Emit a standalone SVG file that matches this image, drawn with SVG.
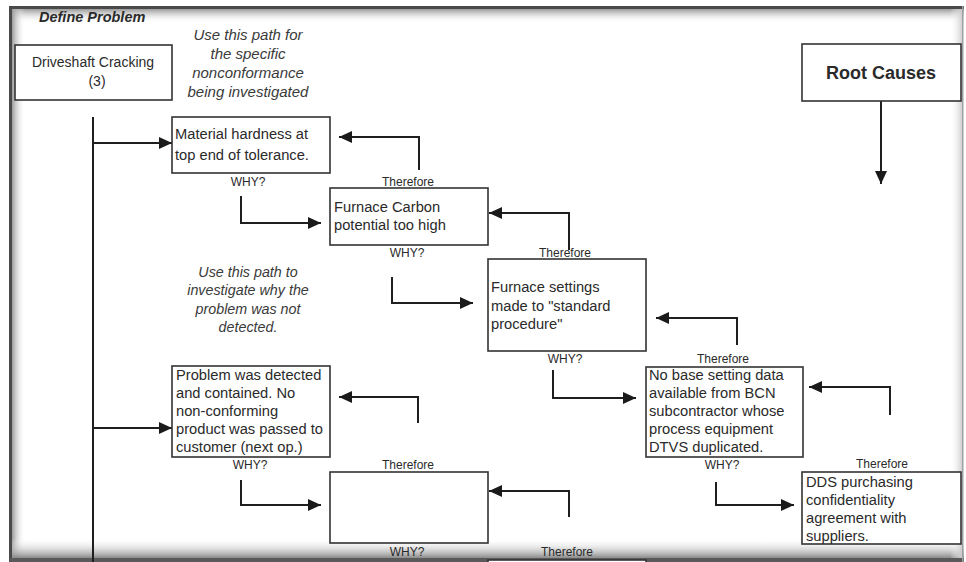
<svg xmlns="http://www.w3.org/2000/svg" width="966" height="562" viewBox="0 0 966 562">
  <defs>
    <linearGradient id="gTop" x1="0" y1="0" x2="0" y2="1">
      <stop offset="0" stop-color="#9a9a9a"/>
      <stop offset="1" stop-color="#ffffff" stop-opacity="0"/>
    </linearGradient>
    <linearGradient id="gLeft" x1="0" y1="0" x2="1" y2="0">
      <stop offset="0" stop-color="#9a9a9a"/>
      <stop offset="1" stop-color="#ffffff" stop-opacity="0"/>
    </linearGradient>
    <linearGradient id="gBottom" x1="0" y1="0" x2="0" y2="1">
      <stop offset="0" stop-color="#ffffff" stop-opacity="0"/>
      <stop offset="1" stop-color="#8a8a8a"/>
    </linearGradient>
    <linearGradient id="gRight" x1="0" y1="0" x2="1" y2="0">
      <stop offset="0" stop-color="#ffffff" stop-opacity="0"/>
      <stop offset="1" stop-color="#c8c8c8"/>
    </linearGradient>
    <marker id="arr" markerUnits="userSpaceOnUse" markerWidth="14" markerHeight="12" viewBox="0 0 14 12" refX="13" refY="6" orient="auto">
      <path d="M0,0 L13,6 L0,12 Z" fill="#1a1a1a"/>
    </marker>
    <style>
      .box { fill: #ffffff; stroke: #333333; stroke-width: 1.6; }
      .txt { font-family: "Liberation Sans", Arial, sans-serif; font-size: 14.7px; fill: #2a2a2a; }
      .small { font-family: "Liberation Sans", Arial, sans-serif; font-size: 12px; fill: #2a2a2a; text-anchor: middle; }
      .ital { font-family: "Liberation Sans", Arial, sans-serif; font-style: italic; font-size: 15px; fill: #3a3a3a; text-anchor: middle; }
      .conn { fill: none; stroke: #1f1f1f; stroke-width: 2; }
      .conn-a { fill: none; stroke: #1f1f1f; stroke-width: 2; marker-end: url(#arr); }
    </style>
  </defs>

  <!-- background and frame -->
  <rect x="0" y="0" width="966" height="562" fill="#ffffff"/>
  <rect x="10" y="9" width="954" height="14" fill="url(#gTop)"/>
  <rect x="12" y="8" width="13" height="554" fill="url(#gLeft)"/>
  <rect x="10" y="538" width="954" height="20" fill="url(#gBottom)"/>
  <rect x="950" y="8" width="13" height="554" fill="url(#gRight)"/>
  <rect x="10" y="6" width="954" height="3" fill="#4a4a4a"/>
  <rect x="9" y="6" width="3" height="556" fill="#4a4a4a"/>
  <rect x="10" y="558" width="954" height="4" fill="#5a5a5a"/>
  <rect x="962" y="6" width="1.5" height="556" fill="#a0a0a0"/>

  <text x="39" y="22" font-family="Liberation Sans, Arial, sans-serif" font-size="14.5" font-weight="bold" font-style="italic" fill="#2a2a2a">Define Problem</text>

  <g id="italic-note-1">
    <text class="ital" x="248" y="40">Use this path for</text>
    <text class="ital" x="248" y="59">the specific</text>
    <text class="ital" x="248" y="78">nonconformance</text>
    <text class="ital" x="248" y="97">being investigated</text>
  </g>
  <g id="italic-note-2">
    <text class="ital" x="248" y="277" style="font-size:14.3px">Use this path to</text>
    <text class="ital" x="248" y="295" style="font-size:14.3px">investigate why the</text>
    <text class="ital" x="248" y="314" style="font-size:14.3px">problem was not</text>
    <text class="ital" x="248" y="332" style="font-size:14.3px">detected.</text>
  </g>

  <!-- connectors -->
  <g id="connectors">
    <path class="conn" d="M93,117 V562"/>
    <path class="conn-a" d="M93,143 H172"/>
    <path class="conn-a" d="M93,428 H172"/>
    <path class="conn-a" d="M881,101 V184"/>
    <path class="conn-a" d="M419,170 V137 H339"/>
    <path class="conn-a" d="M241,196 V223 H321"/>
    <path class="conn-a" d="M569,250 V213 H489"/>
    <path class="conn-a" d="M392,277 V303 H473"/>
    <path class="conn-a" d="M737,345 V318 H656"/>
    <path class="conn-a" d="M553,370 V398 H636"/>
    <path class="conn-a" d="M890,415 V387 H809"/>
    <path class="conn-a" d="M716,482 V505 H794"/>
    <path class="conn-a" d="M418,423 V397 H339"/>
    <path class="conn-a" d="M241,480 V505 H321"/>
    <path class="conn-a" d="M569,517 V491 H489"/>
  </g>

  <g id="labels">
    <text class="small" x="248" y="186">WHY?</text>
    <text class="small" x="408" y="186">Therefore</text>
    <text class="small" x="407" y="257">WHY?</text>
    <text class="small" x="565" y="257">Therefore</text>
    <text class="small" x="565" y="363">WHY?</text>
    <text class="small" x="723" y="363">Therefore</text>
    <text class="small" x="722" y="469">WHY?</text>
    <text class="small" x="882" y="468">Therefore</text>
    <text class="small" x="250" y="469">WHY?</text>
    <text class="small" x="408" y="469">Therefore</text>
    <text class="small" x="407" y="556">WHY?</text>
    <text class="small" x="567" y="556">Therefore</text>
  </g>

  <g id="driveshaft">
    <rect class="box" x="15" y="45" width="157" height="55"/>
    <text class="txt" x="93" y="67" text-anchor="middle" style="font-size:14px">Driveshaft Cracking</text>
    <text class="txt" x="97" y="86" text-anchor="middle" style="font-size:14px">(3)</text>
  </g>

  <g id="root-causes">
    <rect class="box" x="802" y="44" width="159" height="57"/>
    <text x="881" y="79" text-anchor="middle" font-family="Liberation Sans, Arial, sans-serif" font-size="18" font-weight="bold" fill="#2a2a2a">Root Causes</text>
  </g>

  <g id="box-material">
    <rect class="box" x="172" y="117" width="158" height="56"/>
    <text class="txt" x="175" y="139">Material hardness at</text>
    <text class="txt" x="175" y="160">top end of tolerance.</text>
  </g>

  <g id="box-furnace-carbon">
    <rect class="box" x="330" y="188" width="158" height="57"/>
    <text class="txt" x="334" y="212">Furnace Carbon</text>
    <text class="txt" x="334" y="230">potential too high</text>
  </g>

  <g id="box-furnace-settings">
    <rect class="box" x="488" y="259" width="158" height="92"/>
    <text class="txt" x="491" y="292">Furnace settings</text>
    <text class="txt" x="491" y="311">made to "standard</text>
    <text class="txt" x="491" y="329">procedure"</text>
  </g>

  <g id="box-base-setting">
    <rect class="box" x="646" y="367" width="157" height="90"/>
    <text class="txt" x="649" y="380">No base setting data</text>
    <text class="txt" x="649" y="398">available from BCN</text>
    <text class="txt" x="649" y="416">subcontractor whose</text>
    <text class="txt" x="649" y="434">process equipment</text>
    <text class="txt" x="649" y="452">DTVS duplicated.</text>
  </g>

  <g id="box-dds">
    <rect class="box" x="802" y="472" width="159" height="72"/>
    <text class="txt" x="806" y="487">DDS purchasing</text>
    <text class="txt" x="806" y="505">confidentiality</text>
    <text class="txt" x="806" y="523">agreement with</text>
    <text class="txt" x="806" y="541">suppliers.</text>
  </g>

  <g id="box-detected">
    <rect class="box" x="172" y="366" width="158" height="91"/>
    <text class="txt" x="176" y="380">Problem was detected</text>
    <text class="txt" x="176" y="398">and contained. No</text>
    <text class="txt" x="176" y="416">non-conforming</text>
    <text class="txt" x="176" y="434">product was passed to</text>
    <text class="txt" x="176" y="452">customer (next op.)</text>
  </g>

  <g id="box-empty">
    <rect class="box" x="330" y="472" width="158" height="71"/>
  </g>

  <g id="box-partial">
    <rect class="box" x="488" y="560" width="158" height="30"/>
  </g>
</svg>
